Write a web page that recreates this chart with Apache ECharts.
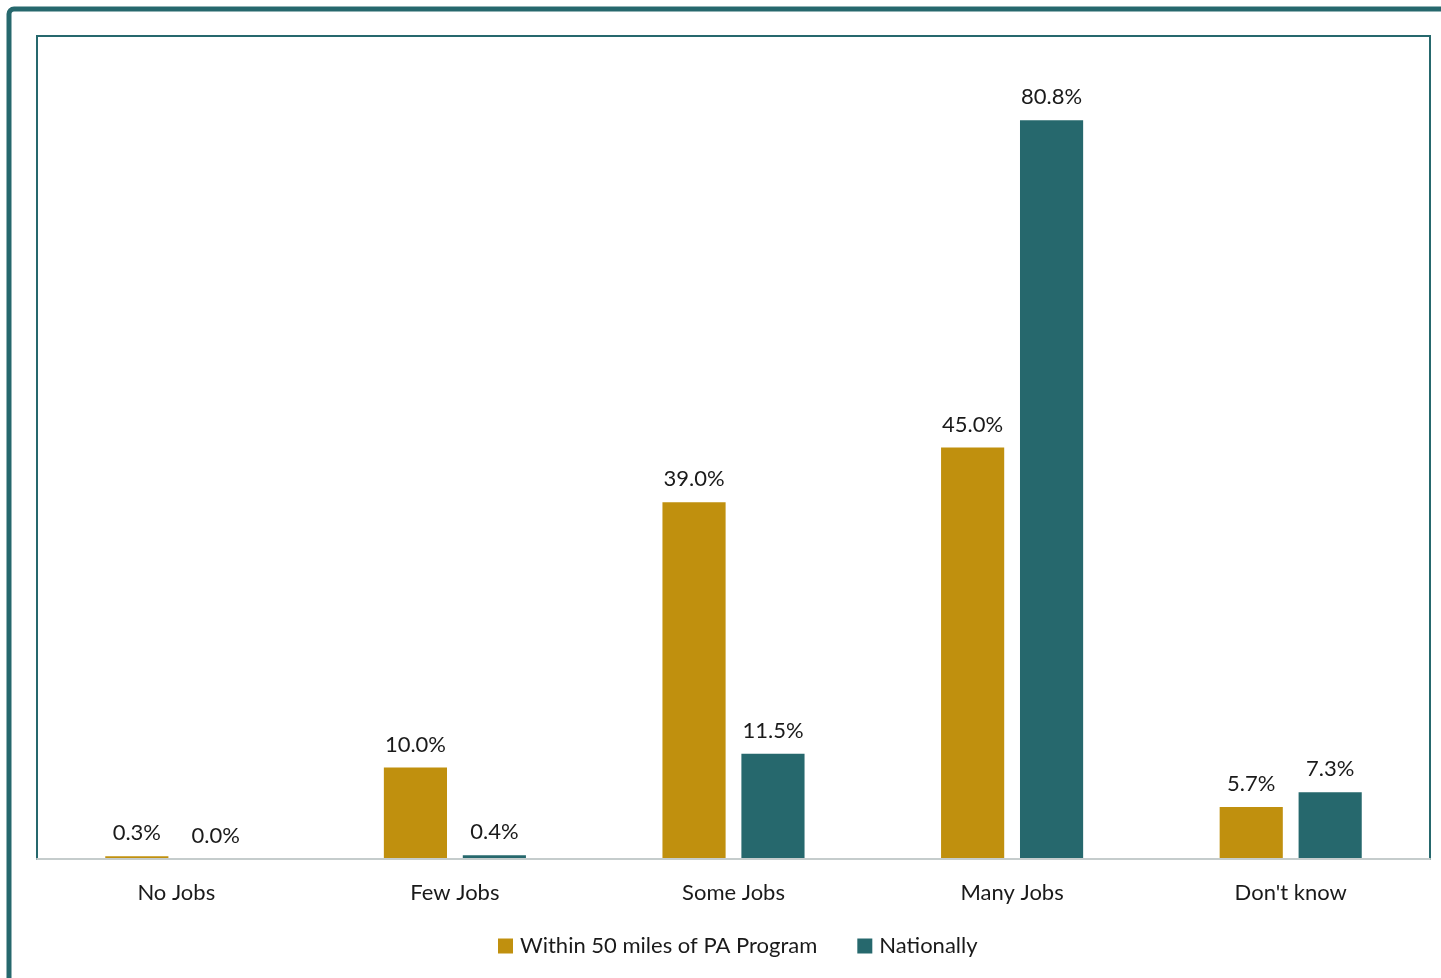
<!DOCTYPE html>
<html>
<head>
<meta charset="utf-8">
<title>Job availability</title>
<script src="https://cdn.jsdelivr.net/npm/echarts@6/dist/echarts.min.js"></script>
<style>
  html, body { margin: 0; padding: 0; background: #ffffff; }
  #chart { width: 1441px; height: 978px; }
</style>
</head>
<body>
<div id="chart"></div>
<script>
// Categories and survey shares (percent)
const categories = ['No Jobs', 'Few Jobs', 'Some Jobs', 'Many Jobs', "Don't know"];
const localShare = [0.3, 10.0, 39.0, 45.0, 5.7];
const nationalShare = [0.0, 0.4, 11.5, 80.8, 7.3];
const seriesNames = ['Within 50 miles of PA Program', 'Nationally'];

const GOLD = '#c0900e';
const TEAL = '#26686d';
const FONT = 'Lato, "Noto Sans", sans-serif';

const chart = echarts.init(document.getElementById('chart'), null, { renderer: 'canvas' });

const labelStyle = {
  show: true,
  position: 'top',
  distance: 12,
  color: '#1a1a1a',
  fontSize: 22,
  fontFamily: FONT,
  formatter: p => p.value.toFixed(1) + '%'
};

chart.setOption({
  backgroundColor: '#ffffff',
  animation: false,
  graphic: [
    {
      type: 'rect',
      z: 10,
      shape: { x: 9, y: 9, width: 1500, height: 1100, r: 5 },
      style: { fill: null, stroke: TEAL, lineWidth: 5 }
    }
  ],
  grid: {
    left: 37,
    right: 11,
    top: 36,
    bottom: 119,
    show: true,
    borderColor: TEAL,
    borderWidth: 2,
    backgroundColor: '#ffffff'
  },
  legend: {
    bottom: 16,
    left: 493,
    icon: 'rect',
    itemWidth: 15,
    itemHeight: 15,
    itemGap: 40,
    textStyle: { fontSize: 22, fontFamily: FONT, color: '#1a1a1a', padding: [0, 0, 0, 2] },
    data: seriesNames
  },
  xAxis: {
    type: 'category',
    data: categories,
    z: 5,
    axisLine: { show: true, lineStyle: { color: '#c5cccc', width: 2 } },
    axisTick: { show: false },
    axisLabel: { color: '#1a1a1a', fontSize: 22, fontFamily: FONT, margin: 23 }
  },
  yAxis: {
    type: 'value',
    min: 0,
    max: 90,
    show: false,
    splitLine: { show: false }
  },
  series: [
    {
      name: seriesNames[0],
      type: 'bar',
      data: localShare,
      itemStyle: { color: GOLD },
      barGap: '25%',
      barCategoryGap: '49%',
      label: labelStyle
    },
    {
      name: seriesNames[1],
      type: 'bar',
      data: nationalShare,
      itemStyle: { color: TEAL },
      barGap: '25%',
      barCategoryGap: '49%',
      label: labelStyle
    }
  ]
});
</script>
</body>
</html>
